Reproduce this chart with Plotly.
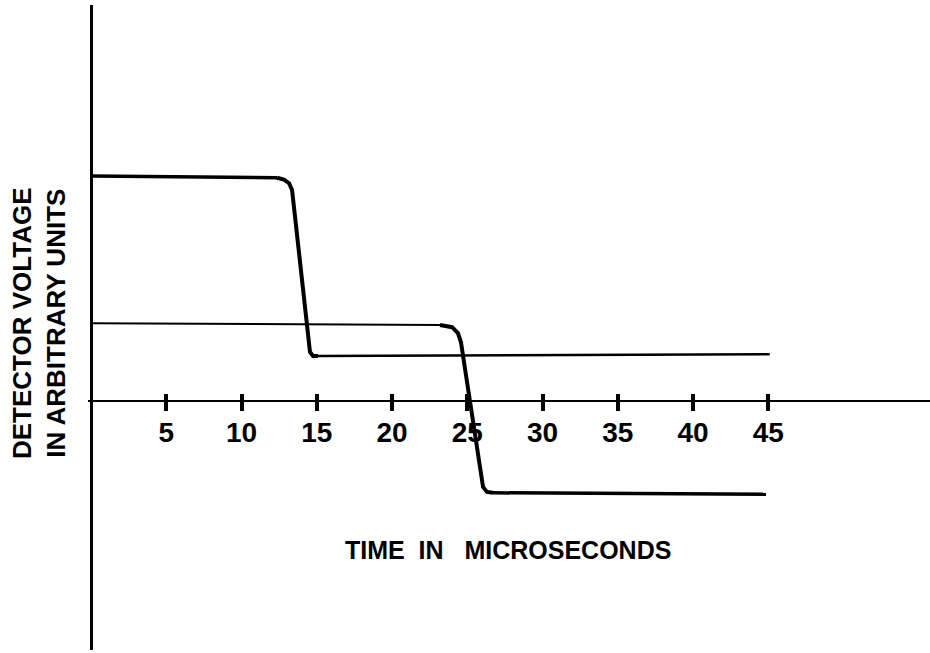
import plotly.graph_objects as go

# ---- data ----
tick_values = [5, 10, 15, 20, 25, 30, 35, 40, 45]
tick_labels = ["5", "10", "15", "20", "25", "30", "35", "40", "45"]

# curve A (early step)
curve_a_high_t = [0.0, 12.36]
curve_a_high_v = [5.0, 4.96]
curve_a_fall_t = [12.36, 12.82, 13.16, 13.36, 14.55, 14.75, 15.08]
curve_a_fall_v = [4.96, 4.92, 4.84, 4.69, 1.09, 1.0, 1.0]
curve_a_low_t = [15.08, 45.1]
curve_a_low_v = [1.0, 1.04]

# curve B (later step)
curve_b_high_t = [0.0, 23.19]
curve_b_high_v = [1.73, 1.69]
curve_b_fall_t = [23.19, 23.99, 24.38, 24.58, 26.05, 26.31, 26.71]
curve_b_fall_v = [1.69, 1.64, 1.51, 1.31, -1.91, -2.02, -2.04]
curve_b_low_t = [26.71, 44.85]
curve_b_low_v = [-2.04, -2.07]

x_title = "TIME\u00a0\u00a0IN\u00a0\u00a0\u00a0MICROSECONDS"
y_title_lines = ["DETECTOR VOLTAGE", "IN ARBITRARY UNITS"]

FONT = "Liberation Sans, Arial, Helvetica, sans-serif"

fig = go.Figure()

def seg(t, v, w):
    fig.add_trace(go.Scatter(x=t, y=v, mode="lines",
                             line=dict(color="black", width=w),
                             hoverinfo="skip", showlegend=False))

seg(curve_a_high_t, curve_a_high_v, 3.5)
seg(curve_a_fall_t, curve_a_fall_v, 4)
seg(curve_a_low_t, curve_a_low_v, 2.5)
seg(curve_b_high_t, curve_b_high_v, 2)
seg(curve_b_fall_t, curve_b_fall_v, 4)
seg(curve_b_low_t, curve_b_low_v, 3.5)

W, H = 930, 653
ml, mr, mt, mb = 88, 0, 5, 3
plot_h = H - mt - mb
px_per_t = 15.05
px_per_v = 45.0
y0_px = 401
x_lo = -(91 - ml) / px_per_t
x_hi = x_lo + (W - ml - mr) / px_per_t
y_hi = (y0_px - mt) / px_per_v
y_lo = y_hi - plot_h / px_per_v

tick_top_px = 393
axis_pos = (H - mb - tick_top_px) / plot_h

fig.update_layout(
    width=W, height=H,
    margin=dict(l=ml, r=mr, t=mt, b=mb, pad=0),
    paper_bgcolor="white", plot_bgcolor="white",
    showlegend=False, hovermode=False,
    xaxis=dict(range=[x_lo, x_hi], showgrid=False, showline=False,
               zeroline=True, zerolinecolor="black", zerolinewidth=3,
               anchor="free", position=axis_pos,
               tickmode="array", tickvals=tick_values, ticktext=tick_labels,
               ticks="outside", ticklen=17, tickwidth=3.5, tickcolor="black",
               ticklabelstandoff=-3,
               tickfont=dict(family=FONT, size=28, color="black", weight="bold")),
    yaxis=dict(range=[y_lo, y_hi], showgrid=False, showline=False,
               zeroline=True, zerolinecolor="black", zerolinewidth=2,
               showticklabels=False, ticks=""),
)

fig.add_annotation(text=x_title, xref="paper", yref="paper",
                   x=(508 - ml) / (W - ml - mr), y=(H - mb - 550) / plot_h,
                   xanchor="center", yanchor="middle", showarrow=False,
                   font=dict(family=FONT, size=25, color="black", weight="bold"))

fig.add_annotation(text="<br>".join(y_title_lines), xref="paper", yref="paper",
                   x=(39 - ml) / (W - ml - mr), y=(H - mb - 323) / plot_h,
                   xanchor="center", yanchor="middle", showarrow=False,
                   textangle=-90, align="center",
                   font=dict(family=FONT, size=26, color="black", weight="bold"))

fig.write_html("out.html")
